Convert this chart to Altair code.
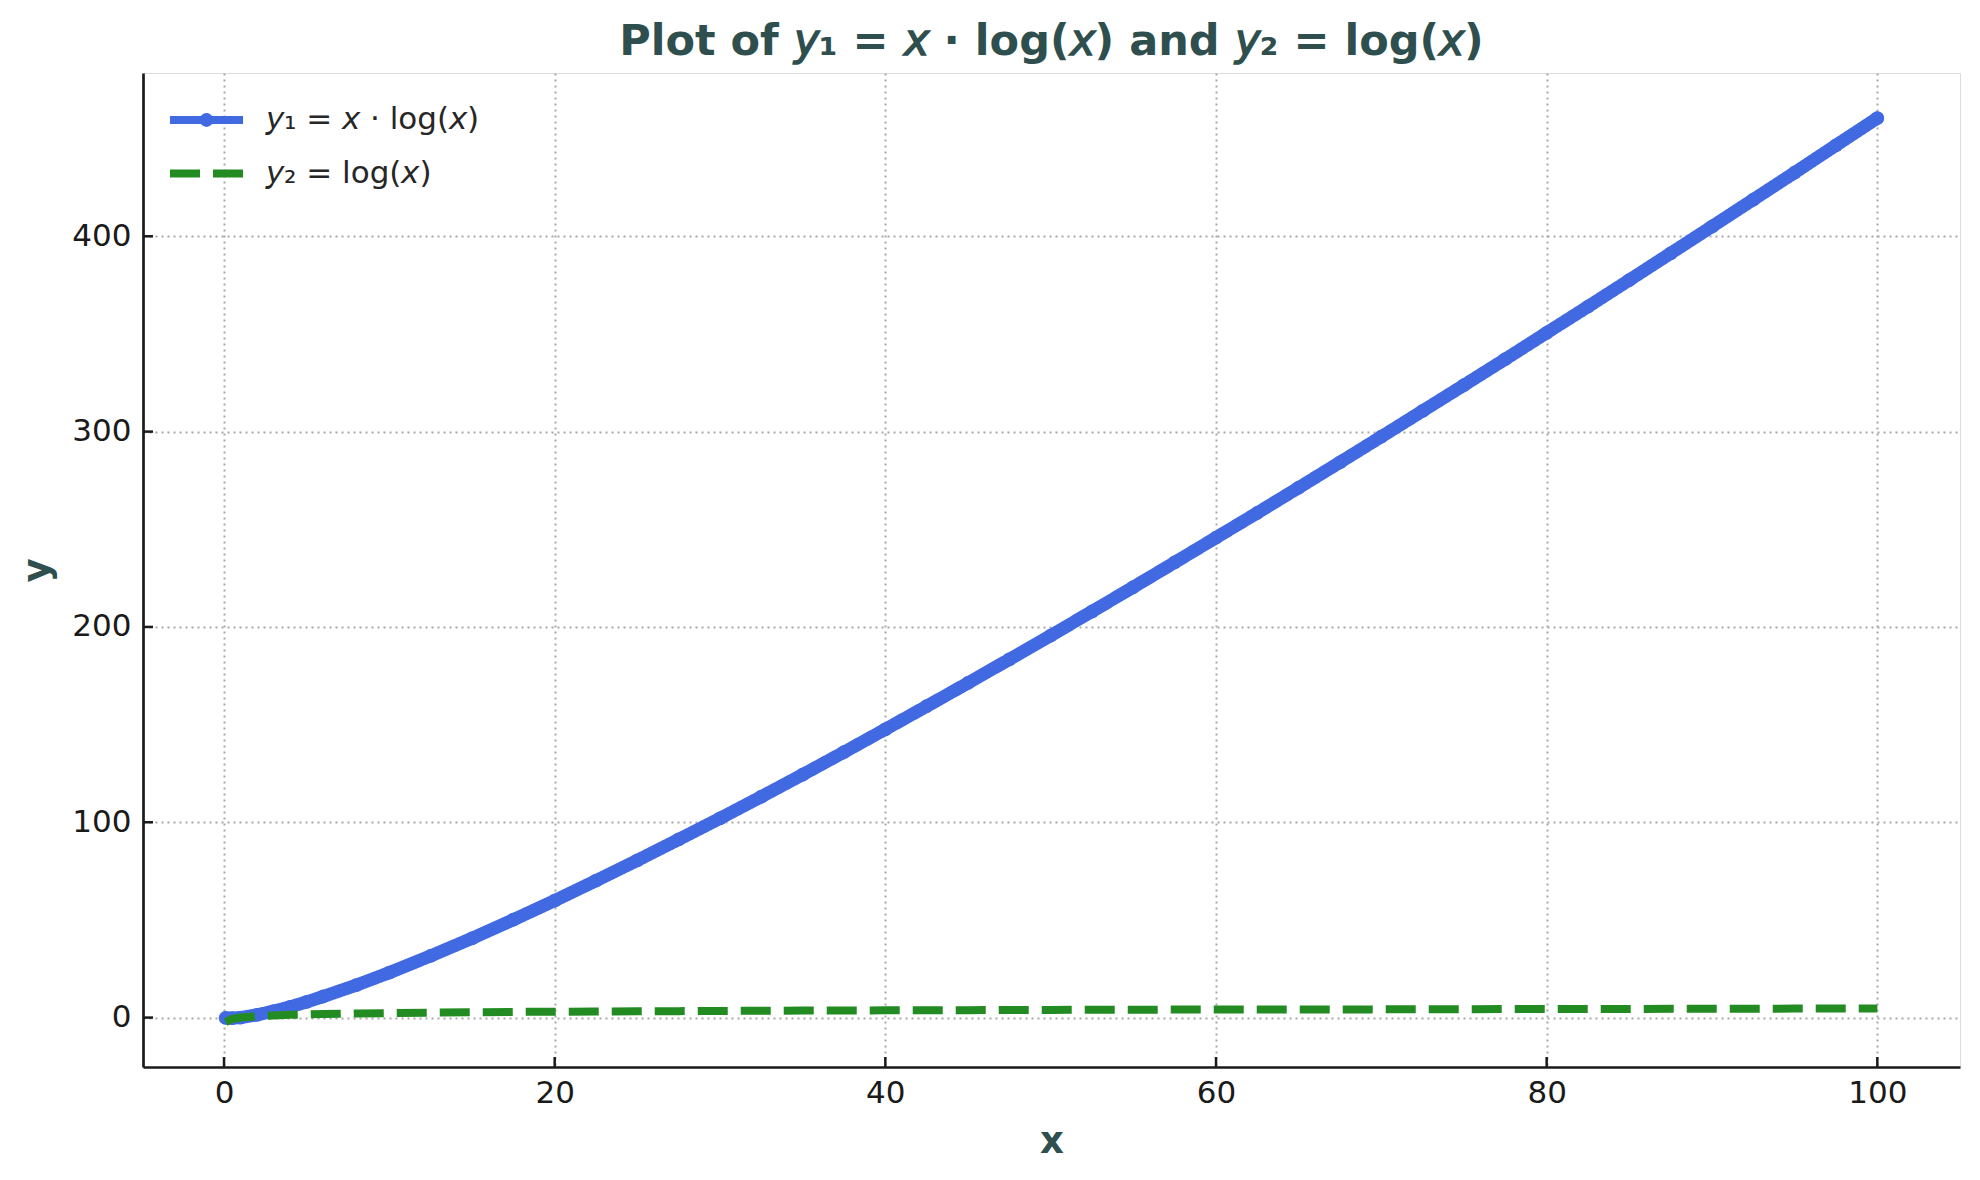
import altair as alt
import pandas as pd

# values
X_VALUES = [0.1, 0.5, 1, 2, 3, 4, 5, 6, 8, 10,
            12.5, 15, 17.5, 20, 22.5, 25, 27.5, 30, 32.5, 35, 37.5, 40,
            42.5, 45, 47.5, 50, 52.5, 55, 57.5, 60, 62.5, 65, 67.5, 70,
            72.5, 75, 77.5, 80, 82.5, 85, 87.5, 90, 92.5, 95, 97.5, 100]
Y1_VALUES = [-0.2, -0.3, 0.0, 1.4, 3.3, 5.5, 8.0, 10.8, 16.6, 23.0,
             31.6, 40.6, 50.1, 59.9, 70.1, 80.5, 91.2, 102.0, 113.1, 124.4, 135.9, 147.6,
             159.4, 171.3, 183.4, 195.6, 207.9, 220.4, 233.0, 245.7, 258.4, 271.3, 284.3, 297.4,
             310.6, 323.8, 337.1, 350.6, 364.0, 377.6, 391.3, 405.0, 418.8, 432.6, 446.6, 460.5]
Y2_VALUES = [-2.3, -0.7, 0.0, 0.7, 1.1, 1.4, 1.6, 1.8, 2.1, 2.3,
             2.5, 2.7, 2.9, 3.0, 3.1, 3.2, 3.3, 3.4, 3.5, 3.6, 3.6, 3.7,
             3.7, 3.8, 3.9, 3.9, 4.0, 4.0, 4.1, 4.1, 4.1, 4.2, 4.2, 4.2,
             4.3, 4.3, 4.4, 4.4, 4.4, 4.4, 4.5, 4.5, 4.5, 4.6, 4.6, 4.6]
SERIES = ["𝘺₁ = 𝘹 · log(𝘹)", "𝘺₂ = log(𝘹)"]
TITLE = "Plot of 𝘺₁ = 𝘹 · log(𝘹) and 𝘺₂ = log(𝘹)"
X_TICKS = [0, 20, 40, 60, 80, 100]
Y_TICKS = [0, 100, 200, 300, 400]

BLUE = "#4169E1"
GREEN = "#228B22"
TITLE_COLOR = "#2F4F4F"
INK = "#1a1a1a"
FONT = "DejaVu Sans"
W, H = 1817, 994

lines = pd.DataFrame({
    "x": X_VALUES + X_VALUES,
    "y": Y1_VALUES + Y2_VALUES,
    "series": [SERIES[0]] * len(X_VALUES) + [SERIES[1]] * len(X_VALUES),
})
blue_pts = pd.DataFrame({"x": X_VALUES, "y": Y1_VALUES, "marker": "m"})
x_ticks = pd.DataFrame({"v": X_TICKS})
y_ticks = pd.DataFrame({"v": Y_TICKS})

x_scale = alt.Scale(domain=[-4.9, 105.0], nice=False, zero=False)
y_scale = alt.Scale(domain=[-25.3, 483.6], nice=False, zero=False)

axis_common = dict(
    labelFont=FONT, labelFontSize=31, labelColor=INK, ticks=False, tickSize=0,
    domainColor=INK, domainWidth=2.7, grid=True, gridColor="#a8a8a8",
    gridDash=[2, 4], gridWidth=2, labelFlush=False,
    titleFont=FONT, titleFontSize=37, titleFontWeight="bold", titleColor=TITLE_COLOR,
)
x_axis = alt.Axis(values=X_TICKS, title="x", labelPadding=11,
                  titleBaseline="alphabetic", titleY=85, **axis_common)
y_axis = alt.Axis(values=Y_TICKS, title="y", labelPadding=12, titleAngle=270,
                  titleBaseline="alphabetic", titleAlign="center",
                  titleX=-95, titleY=H / 2, **axis_common)

# long horizontal stroke drawn from a small symbol so rows stay label-high
legend = alt.Legend(
    title=None, orient="none", legendX=48, legendY=31.5, padding=0,
    symbolType="M-6,0H6", symbolSize=148, symbolStrokeWidth=8,
    labelFont=FONT, labelFontSize=31, labelColor="#262626", labelLimit=600,
    labelOffset=44, rowPadding=20.5,
)
color = alt.Color("series:N", scale=alt.Scale(domain=SERIES, range=[BLUE, GREEN]), legend=legend)
dash = alt.StrokeDash("series:N", scale=alt.Scale(domain=SERIES, range=[[1, 0], [30, 13]]), legend=legend)

blue_line = alt.Chart(lines).transform_filter(
    alt.datum.series == SERIES[0]
).mark_line(strokeWidth=13, strokeCap="round", strokeJoin="round").encode(
    x=alt.X("x:Q", scale=x_scale, axis=x_axis),
    y=alt.Y("y:Q", scale=y_scale, axis=y_axis),
    color=color,
    strokeDash=dash,
)

points = alt.Chart(blue_pts).mark_point(filled=True, size=190, opacity=1, color=BLUE).encode(
    x=alt.X("x:Q", scale=x_scale, axis=x_axis),
    y=alt.Y("y:Q", scale=y_scale, axis=y_axis),
    shape=alt.Shape(
        "marker:N", scale=alt.Scale(range=["circle"]),
        legend=alt.Legend(title=None, orient="none", legendX=48, legendY=31.5, padding=0,
                          symbolSize=190, symbolFillColor=BLUE, symbolStrokeWidth=0,
                          labelExpr="''", labelFont=FONT, labelFontSize=31),
    ),
)

green_line = alt.Chart(lines).transform_filter(
    alt.datum.series == SERIES[1]
).mark_line(strokeWidth=8, strokeCap="butt").encode(
    x=alt.X("x:Q", scale=x_scale, axis=x_axis),
    y=alt.Y("y:Q", scale=y_scale, axis=y_axis),
    color=color,
    strokeDash=dash,
)

xtick_rules = alt.Chart(x_ticks).mark_rule(color=INK, strokeWidth=2.5).encode(
    x=alt.X("v:Q", scale=x_scale, axis=x_axis),
    y=alt.value(H),
    y2=alt.value(H - 10),
)
ytick_rules = alt.Chart(y_ticks).mark_rule(color=INK, strokeWidth=2.5).encode(
    y=alt.Y("v:Q", scale=y_scale, axis=y_axis),
    x=alt.value(0),
    x2=alt.value(10),
)

chart = (
    alt.layer(blue_line, points, green_line, xtick_rules, ytick_rules)
    .properties(
        width=W,
        height=H,
        autosize=alt.AutoSizeParams(type="none"),
        padding={"left": 135, "top": 65, "right": 12, "bottom": 105},
        title=alt.Title(
            TITLE,
            font=FONT, fontSize=43, fontWeight="bold", color=TITLE_COLOR,
            anchor="middle", offset=9,
        ),
    )
    .configure_view(stroke="transparent")
    .configure(background="white")
)

chart.save("out.html", embed_options={"renderer": "svg", "actions": False})
